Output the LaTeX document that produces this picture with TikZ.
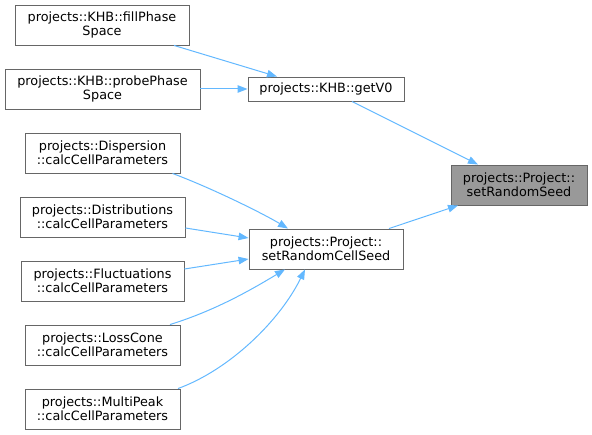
\documentclass[tikz,border=0pt]{standalone}
\usepackage{fontspec}
\setmainfont{DejaVu Sans}
\usetikzlibrary{arrows.meta}
\definecolor{edgeblue}{HTML}{63B8FF}
\definecolor{boxgray}{HTML}{666666}
\definecolor{fillgray}{HTML}{999999}
\tikzset{
  fn/.style={draw=boxgray, line width=0.9pt, fill=white, align=center, inner sep=0pt,
    font=\fontsize{12.8}{14}\selectfont, text=black},
  cur/.style={fn, fill=fillgray},
  edge/.style={draw=edgeblue, line width=1pt, -{Triangle[length=10pt,width=7.5pt]}},
}
\begin{document}
\begin{tikzpicture}[x=1pt,y=-1pt]
\useasboundingbox (0,0) rectangle (592,435);
\node[fn, minimum width=174pt, minimum height=40pt] (fill) at (102,25) {projects::KHB::fillPhase\\Space};
\node[fn, minimum width=195pt, minimum height=40pt] (probe) at (102.5,89) {projects::KHB::probePhase\\Space};
\node[fn, minimum width=156pt, minimum height=24pt] (getv) at (326,89) {projects::KHB::getV0};
\node[cur, minimum width=136pt, minimum height=40pt] (seed) at (519,185) {projects::Project::\\setRandomSeed};
\node[fn, minimum width=154pt, minimum height=40pt] (cell) at (326,249) {projects::Project::\\setRandomCellSeed};
\node[fn, minimum width=155pt, minimum height=40pt] (disp) at (102.5,153) {projects::Dispersion\\::calcCellParameters};
\node[fn, minimum width=165pt, minimum height=40pt] (distr) at (102.5,217) {projects::Distributions\\::calcCellParameters};
\node[fn, minimum width=163pt, minimum height=40pt] (fluct) at (102.5,281) {projects::Fluctuations\\::calcCellParameters};
\node[fn, minimum width=155pt, minimum height=40pt] (loss) at (102.5,345) {projects::LossCone\\::calcCellParameters};
\node[fn, minimum width=155pt, minimum height=40pt] (multi) at (102.5,409) {projects::MultiPeak\\::calcCellParameters};

\draw[edge] ([xshift=72pt]fill.south) -- ([xshift=-49pt]getv.north);
\draw[edge] (probe.east) -- (getv.west);
\draw[edge] ([xshift=26pt]getv.south) -- ([xshift=-41pt]seed.north);
\draw[edge] ([xshift=63pt]cell.north) -- ([xshift=-61pt]seed.south);
\draw[edge] ([xshift=70pt]disp.south) .. controls +(40,15) and +(-25,-15) .. ([xshift=-38pt]cell.north);
\draw[edge] ([yshift=-11pt]distr.east) -- ([yshift=11pt]cell.west);
\draw[edge] ([yshift=12pt]fluct.east) -- ([yshift=-10pt]cell.west);
\draw[edge] ([xshift=67.5pt]loss.north) .. controls +(45,-14) and +(-35,21) .. ([xshift=-41pt]cell.south);
\draw[edge] ([xshift=75.5pt]multi.north) .. controls +(52,-19) and +(-25,51) .. ([xshift=-21pt]cell.south);
\end{tikzpicture}
\end{document}
